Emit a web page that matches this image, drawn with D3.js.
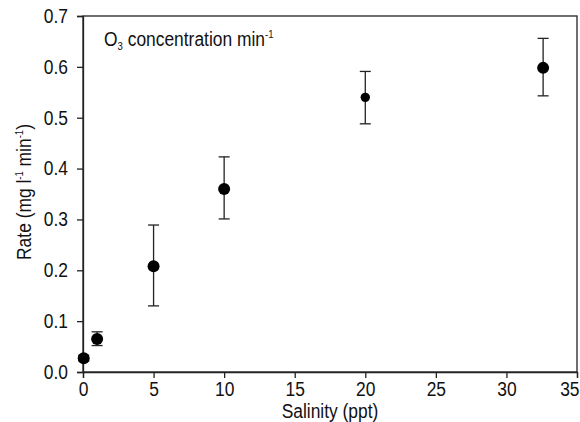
<!DOCTYPE html>
<html>
<head>
<meta charset="utf-8">
<script src="https://cdn.jsdelivr.net/npm/d3@7"></script>
<style>
  body { margin: 0; background: #fff; }
  svg text { font-family: "Liberation Sans", Arial, sans-serif; fill: #111; }
</style>
</head>
<body>
<div id="chart"></div>
<script>
/*** DATA ***/
var salinity = [0.05, 1, 5, 10, 20, 32.6];
var rate = [0.027, 0.065, 0.208, 0.360, 0.540, 0.598];
var errLow = [0.022, 0.052, 0.130, 0.301, 0.488, 0.543];
var errHigh = [0.033, 0.079, 0.289, 0.423, 0.591, 0.656];
var xTicks = [0, 5, 10, 15, 20, 25, 30, 35];
var yTicks = [0, 0.1, 0.2, 0.3, 0.4, 0.5, 0.6, 0.7];

var width = 580, height = 422;
var margin = { top: 16, right: 3, bottom: 50, left: 83 };
var squeeze = 0.87; //text in the figure is horizontally condensed

var svg = d3.select('#chart').append('svg')
  .attr('width', width)
  .attr('height', height);

var x = d3.scaleLinear().domain([0, 35]).range([margin.left, width - margin.right]);
var y = d3.scaleLinear().domain([0, 0.7]).range([height - margin.bottom, margin.top]);

//frame
svg.append('rect')
  .attr('x', x(0))
  .attr('y', y(0.7))
  .attr('width', x(35) - x(0))
  .attr('height', y(0) - y(0.7))
  .attr('fill', 'none')
  .attr('stroke', '#222')
  .attr('stroke-width', 1.3);

//axes
var xAxis = d3.axisBottom(x).tickValues(xTicks).tickSize(6).tickPadding(4).tickFormat(d3.format('d'));
var yAxis = d3.axisLeft(y).tickValues(yTicks).tickSize(6).tickPadding(9).tickFormat(d3.format('.1f'));

var gx = svg.append('g')
  .attr('transform', 'translate(0,' + y(0) + ')')
  .call(xAxis);
var gy = svg.append('g')
  .attr('transform', 'translate(' + x(0) + ',0)')
  .call(yAxis);

[gx, gy].forEach(function(g) {
  g.select('.domain').attr('stroke', '#222').attr('stroke-width', 1.3);
  g.selectAll('.tick line').attr('stroke', '#222').attr('stroke-width', 1.3);
  g.selectAll('.tick text')
    .style('font-family', '"Liberation Sans", Arial, sans-serif')
    .style('font-size', '20px')
    .attr('fill', '#111');
});

//condense tick labels
gx.selectAll('.tick text').attr('transform', 'scale(' + squeeze + ',1)');
gx.selectAll('.tick text').filter(function(d) { return d == 35; })
  .attr('text-anchor', 'end')
  .attr('x', 2 / squeeze);
gy.selectAll('.tick text')
  .attr('x', -15 / squeeze)
  .attr('transform', 'scale(' + squeeze + ',1)');

//error bars
var capW = 5.5;
var bars = svg.append('g').attr('class', 'error-bars')
  .attr('stroke', '#222')
  .attr('stroke-width', 1.3);

salinity.forEach(function(s, i) {
  bars.append('line')
    .attr('x1', x(s)).attr('x2', x(s))
    .attr('y1', y(errLow[i])).attr('y2', y(errHigh[i]));
  bars.append('line')
    .attr('x1', x(s) - capW).attr('x2', x(s) + capW)
    .attr('y1', y(errLow[i])).attr('y2', y(errLow[i]));
  bars.append('line')
    .attr('x1', x(s) - capW).attr('x2', x(s) + capW)
    .attr('y1', y(errHigh[i])).attr('y2', y(errHigh[i]));
});

//points
svg.append('g').selectAll('circle')
  .data(salinity)
  .enter().append('circle')
  .attr('cx', function(d) { return x(d); })
  .attr('cy', function(d, i) { return y(rate[i]); })
  .attr('r', function(d) { return d == 20 ? 4.7 : 6; })
  .attr('fill', '#000');

//inner label
var label = svg.append('text')
  .attr('transform', 'translate(104,46) scale(' + squeeze + ',1)')
  .style('font-size', '20px');
label.append('tspan').text('O');
label.append('tspan').attr('dy', 4).style('font-size', '11px').text('3');
label.append('tspan').attr('dy', -4).text(' concentration min');
label.append('tspan').attr('dy', -8).style('font-size', '11px').text('-1');

//axis titles
svg.append('text')
  .attr('transform', 'translate(' + (x(0) + x(35)) / 2 + ',418) scale(' + squeeze + ',1)')
  .attr('text-anchor', 'middle')
  .style('font-size', '20px')
  .text('Salinity (ppt)');

var yTitle = svg.append('text')
  .attr('transform', 'translate(31,' + ((y(0) + y(0.7)) / 2 - 2) + ') rotate(-90) scale(' + squeeze + ',1)')
  .attr('text-anchor', 'middle')
  .style('font-size', '20px');
yTitle.append('tspan').text('Rate (mg l');
yTitle.append('tspan').attr('dy', -8).style('font-size', '11px').text('-1');
yTitle.append('tspan').attr('dy', 8).text(' min');
yTitle.append('tspan').attr('dy', -8).style('font-size', '11px').text('-1');
yTitle.append('tspan').attr('dy', 8).text(')');
</script>
</body>
</html>
